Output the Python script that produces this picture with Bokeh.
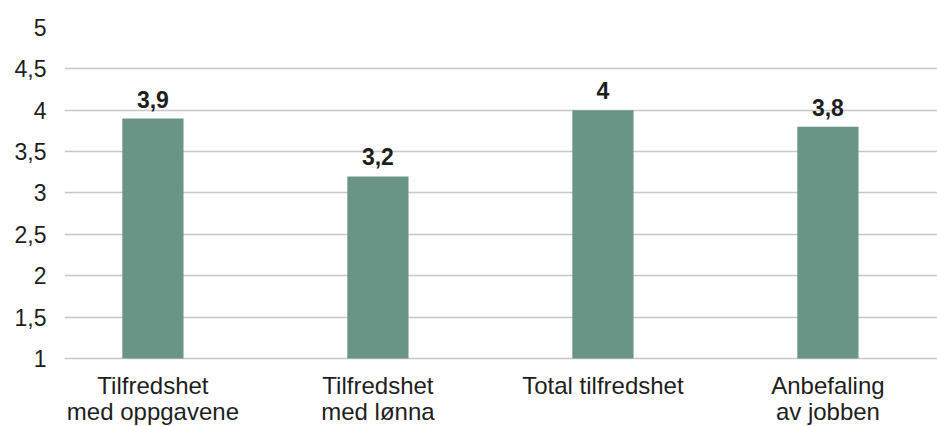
from bokeh.plotting import figure
from bokeh.models import ColumnDataSource, LabelSet, FixedTicker, Range1d
from bokeh.core.properties import value
from bokeh.embed import file_html
from bokeh.resources import INLINE

categories = ["Tilfredshet\nmed oppgavene", "Tilfredshet\nmed lønna", "Total tilfredshet", "Anbefaling\nav jobben"]
scores = [3.9, 3.2, 4.0, 3.8]
y_ticks = [1, 1.5, 2, 2.5, 3, 3.5, 4, 4.5, 5]
BASE = 1

FONT = "Liberation Sans"
BAR = "#6a9485"
INK = "#1e1e1e"

xs = list(range(len(categories)))
lines = [c.split("\n") + [""] * (2 - len(c.split("\n"))) for c in categories]
src = ColumnDataSource(dict(
    x=xs,
    top=scores,
    base=[BASE] * len(xs),
    label=[f"{v:g}".replace(".", ",") for v in scores],
    line1=[l[0] for l in lines],
    line2=[l[1] for l in lines],
))

# the frame runs to the bottom edge so the category names sit inside it,
# below the value-1 baseline
p = figure(width=937, height=426, output_backend="svg", toolbar_location=None,
           x_range=Range1d(-0.393, 3.487), y_range=Range1d(0.178, 5),
           x_axis_location=None,
           min_border_left=64, min_border_right=0, min_border_top=27, min_border_bottom=0)
p.outline_line_color = None

p.vbar(x="x", top="top", bottom="base", width=0.272, source=src, color=BAR, line_color=None)

# value above each bar
p.add_layout(LabelSet(x="x", y="top", text="label", source=src, text_align="center",
                      text_baseline="alphabetic", y_offset=11, text_font=value(FONT),
                      text_font_style="bold", text_font_size="23px", text_color=INK))

# category names under each bar, each line centred on its own
for col, off in (("line1", -36), ("line2", -62)):
    p.add_layout(LabelSet(x="x", y="base", text=col, source=src, text_align="center",
                          text_baseline="alphabetic", y_offset=off, text_font=value(FONT),
                          text_font_size="24px", text_color=INK))

p.xgrid.grid_line_color = None

# y axis: comma decimal ticks
p.yaxis.ticker = FixedTicker(ticks=y_ticks)
p.yaxis.major_label_overrides = {t: f"{t:g}".replace(".", ",") for t in y_ticks}
p.yaxis.axis_line_color = None
p.yaxis.major_tick_line_color = None
p.yaxis.minor_tick_line_color = None
p.yaxis.major_label_standoff = 12
p.yaxis.major_label_text_font = FONT
p.yaxis.major_label_text_font_size = "23px"
p.yaxis.major_label_text_color = INK
p.ygrid.ticker = FixedTicker(ticks=y_ticks)
p.ygrid.grid_line_color = "#c8c8c8"
p.ygrid.grid_line_width = 1.5

open("out.html", "w").write(file_html(p, INLINE))
